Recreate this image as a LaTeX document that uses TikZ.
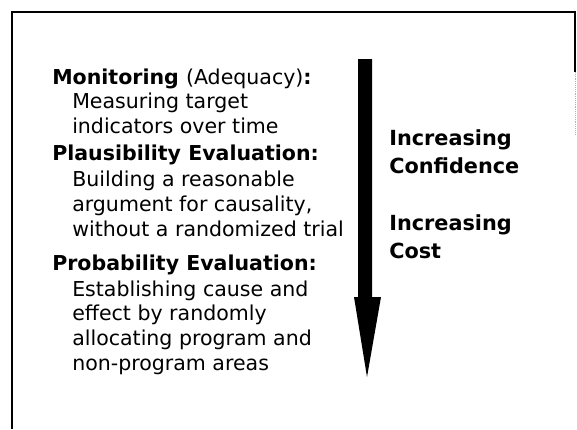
\documentclass[tikz,border=0pt]{standalone}
\usepackage{fontspec}
\setmainfont{DejaVu Sans}

\tikzset{
  heading/.style={anchor=base west, inner sep=0pt, align=left,
    font=\fontsize{15.4}{18.4}\selectfont\bfseries},
  body/.style={anchor=base west, inner sep=0pt, align=left,
    font=\fontsize{15.4}{18.4}\selectfont},
  side/.style={heading, font=\fontsize{15.6}{21}\selectfont\bfseries}
}

\begin{document}
\begin{tikzpicture}[x=0.75pt,y=-0.75pt]
  \useasboundingbox (0,0) rectangle (577,429);

  % frame
  \draw[line width=0.8pt] (12,429) -- (12,12) -- (575,12) -- (575,72);
  \draw[gray!60, densely dotted] (575,72) -- (575,135);

  % the three kinds of evaluation (base = last line)
  \node[heading] (mon) at (52,84) {Monitoring \mdseries(Adequacy)\bfseries:};
  \node[body] (mon text) at (72,133) {Measuring target\\indicators over time};

  \node[heading] (plaus) at (52,160) {Plausibility Evaluation:};
  \node[body] (plaus text) at (72,236) {Building a reasonable\\argument for causality,\\without a randomized trial};

  \node[heading] (prob) at (52,270) {Probability Evaluation:};
  \node[body] (prob text) at (72,370) {Establishing cause and\\effect by randomly\\allocating program and\\non-program areas};

  % the big arrow
  \coordinate (tip) at (367,377);
  \fill (358,59) -- (372,59) -- (372,297) -- (381,297) -- (tip)
    -- (354,297) -- (358,297) -- cycle;

  \node[side] (conf) at (389,173) {Increasing\\Confidence};
  \node[side] (cost) at (389,258) {Increasing\\Cost};
\end{tikzpicture}
\end{document}
